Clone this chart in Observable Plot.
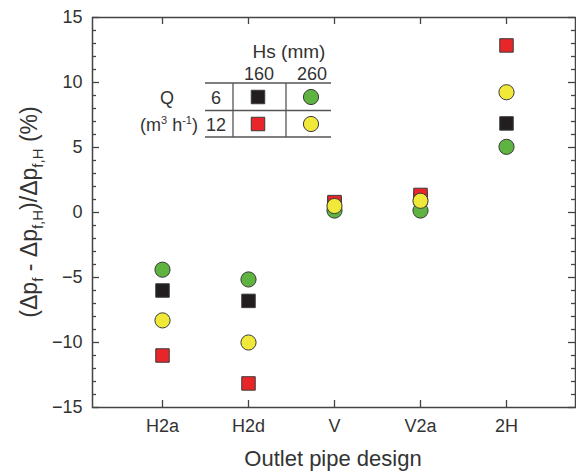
<!DOCTYPE html>
<html><head><meta charset="utf-8">
<script src="https://cdn.jsdelivr.net/npm/d3@7"></script>
<script src="https://cdn.jsdelivr.net/npm/@observablehq/plot@0.6"></script>
<style>
body{margin:0;background:#fff}
#chart svg{font-family:"Liberation Sans",Arial,Helvetica,sans-serif}
</style>
</head><body><div id="chart"></div>
<script>
// Categories (outlet pipe designs)
const categories = ["H2a", "H2d", "V", "V2a", "2H"];
// Series: Q = 6 m3/h, Hs = 160 mm (black squares)
const q6hs160 = [-6.0, -6.8, 0.7, 1.1, 6.85];
// Q = 12 m3/h, Hs = 160 mm (red squares)
const q12hs160 = [-11.0, -13.15, 0.8, 1.35, 12.85];
// Q = 6 m3/h, Hs = 260 mm (green circles)
const q6hs260 = [-4.4, -5.15, 0.15, 0.15, 5.05];
// Q = 12 m3/h, Hs = 260 mm (yellow circles)
const q12hs260 = [-8.3, -10.0, 0.5, 0.9, 9.25];
// Tick values
const yMajorTicks = [-15, -10, -5, 0, 5, 10, 15];
const yMinorTicks = [-14, -13, -12, -11, -9, -8, -7, -6, -4, -3, -2, -1, 1, 2, 3, 4, 6, 7, 8, 9, 11, 12, 13, 14];

const colors = {black: "#221e1f", red: "#e8262a", green: "#5fb341", yellow: "#f1e93a"};
const series = [
  {name: "Q6 Hs160", values: q6hs160, symbol: "square", fill: colors.black},
  {name: "Q12 Hs160", values: q12hs160, symbol: "square", fill: colors.red},
  {name: "Q6 Hs260", values: q6hs260, symbol: "circle", fill: colors.green},
  {name: "Q12 Hs260", values: q12hs260, symbol: "circle", fill: colors.yellow}
];
const rows = series.map(s => s.values.map((v, i) => ({design: categories[i], value: v, series: s.name})));

const W = 576, H = 473;
const mL = 92, mR = 1, mT = 17, mB = 66;
const innerW = W - mL - mR, innerH = H - mT - mB;
const R = 7.6;
const axisColor = "#444";
const textColor = "#333";

const marks = [
  Plot.frame({stroke: axisColor, strokeWidth: 1.5}),
  Plot.tickY(yMajorTicks, {y: d => d, insetRight: innerW - 7, stroke: axisColor, strokeWidth: 1.3}),
  Plot.tickY(yMajorTicks, {y: d => d, insetLeft: innerW - 7, stroke: axisColor, strokeWidth: 1.3}),
  Plot.tickY(yMinorTicks, {y: d => d, insetRight: innerW - 4, stroke: axisColor, strokeWidth: 1.3}),
  Plot.tickY(yMinorTicks, {y: d => d, insetLeft: innerW - 4, stroke: axisColor, strokeWidth: 1.3}),
  Plot.tickX(categories, {x: d => d, insetBottom: innerH - 7, stroke: axisColor, strokeWidth: 1.3}),
  Plot.tickX(categories, {x: d => d, insetTop: innerH - 7, stroke: axisColor, strokeWidth: 1.3}),
  Plot.axisY(yMajorTicks, {tickSize: 0, tickPadding: 10, label: null, fontSize: 18, fill: textColor}),
  Plot.axisX({tickSize: 0, tickPadding: 12, label: null, fontSize: 18, fill: textColor})
];
series.forEach((s, k) => {
  marks.push(Plot.dot(rows[k], {x: "design", y: "value", symbol: () => s.symbol, r: R, fill: s.fill, stroke: "#3a3a3a", strokeWidth: 1}));
});

const chart = Plot.plot({
  width: W, height: H,
  marginLeft: mL, marginRight: mR, marginTop: mT, marginBottom: mB,
  style: {background: "#fff", fontFamily: '"Liberation Sans", Arial, sans-serif'},
  x: {type: "point", domain: categories, padding: 0.784, align: 0.5},
  y: {domain: [-15, 15]},
  symbol: {type: "identity"},
  marks
});
document.getElementById("chart").append(chart);

// Titles and inset legend table
const svg = d3.select(chart);
const ff = '"Liberation Sans", Arial, sans-serif';

// x title
svg.append("text").attr("x", 333).attr("y", 466).attr("text-anchor", "middle")
  .attr("font-family", ff).attr("font-size", 22).attr("fill", textColor).text("Outlet pipe design");

// y title with subscripts
const yt = svg.append("text").attr("transform", "translate(37,212) rotate(-90)")
  .attr("text-anchor", "middle").attr("font-family", ff).attr("font-size", 23).attr("fill", textColor);
const parts = [["(Δp", false], ["f", true], [" - Δp", false], ["f,H", true], [")/Δp", false], ["f,H", true], [" (%)", false]];
parts.forEach(([t, sub]) => {
  yt.append("tspan").attr("font-size", sub ? 15 : 23).attr("dy", sub ? 6 : (t === parts[0][0] ? 0 : -6)).text(t);
});

// legend table
const lg = svg.append("g").attr("font-family", ff).attr("fill", textColor).attr("font-size", 18);
lg.append("text").attr("x", 289).attr("y", 58).attr("text-anchor", "middle").attr("font-size", 19).text("Hs (mm)");
lg.append("text").attr("x", 259).attr("y", 80).attr("text-anchor", "middle").text("160");
lg.append("text").attr("x", 312).attr("y", 80).attr("text-anchor", "middle").text("260");
lg.append("text").attr("x", 167).attr("y", 104).attr("text-anchor", "middle").text("Q");
lg.append("text").attr("x", 216).attr("y", 104).attr("text-anchor", "middle").text("6");
lg.append("text").attr("x", 216).attr("y", 131).attr("text-anchor", "middle").text("12");
const qu = lg.append("text").attr("x", 169).attr("y", 131).attr("text-anchor", "middle");
qu.append("tspan").text("(m");
qu.append("tspan").attr("font-size", 11).attr("dy", -7).text("3");
qu.append("tspan").attr("dy", 7).text(" h");
qu.append("tspan").attr("font-size", 11).attr("dy", -7).text("-1");
qu.append("tspan").attr("dy", 7).text(")");
const lineCol = "#555";
[83, 110.5, 137].forEach(y => lg.append("line").attr("x1", 205).attr("x2", 331).attr("y1", y).attr("y2", y).attr("stroke", lineCol).attr("stroke-width", 1.3));
[233, 286].forEach(x => lg.append("line").attr("x1", x).attr("x2", x).attr("y1", 83).attr("y2", 137).attr("stroke", lineCol).attr("stroke-width", 1.3));
const legendCells = [
  {s: series[0], x: 258, y: 97}, {s: series[2], x: 311, y: 97},
  {s: series[1], x: 258, y: 124}, {s: series[3], x: 311, y: 124}
];
legendCells.forEach(c => {
  lg.append("path")
    .attr("d", d3.symbol(c.s.symbol === "square" ? d3.symbolSquare : d3.symbolCircle, Math.PI * R * R)())
    .attr("transform", `translate(${c.x},${c.y})`)
    .attr("fill", c.s.fill).attr("stroke", "#3a3a3a").attr("stroke-width", 1);
});
</script>
</body></html>
